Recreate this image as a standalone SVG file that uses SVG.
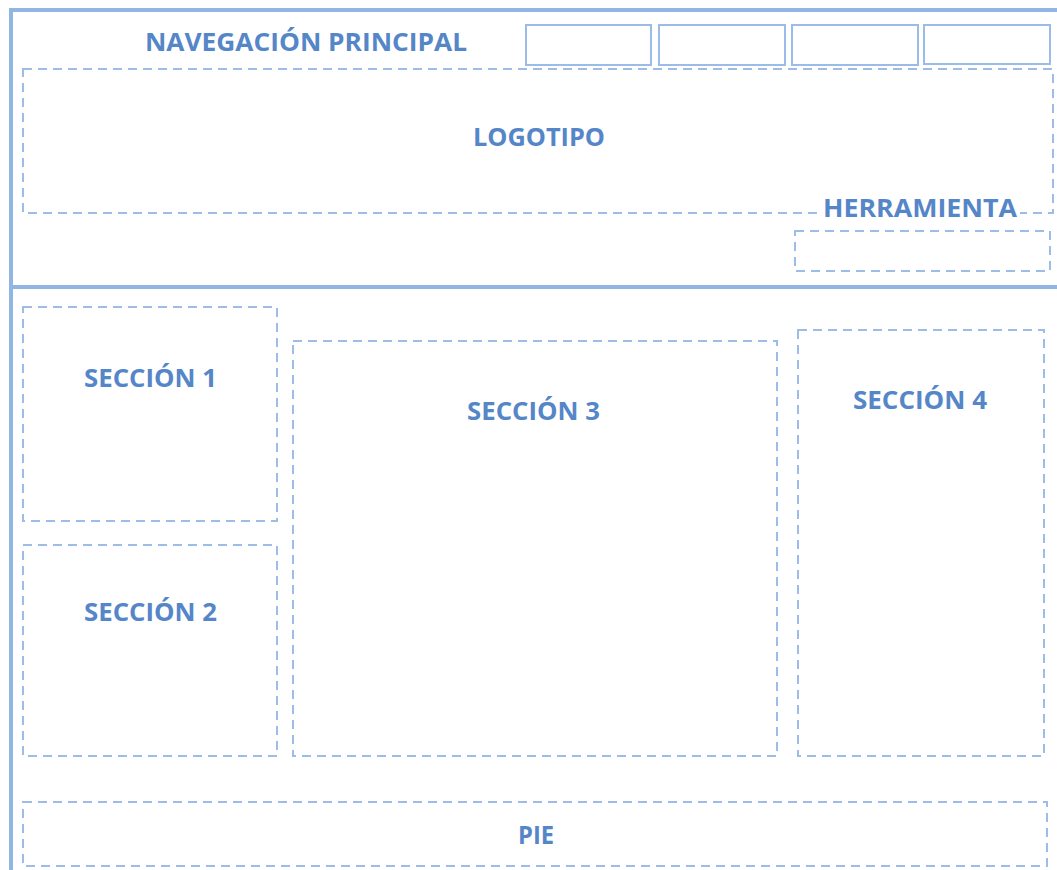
<svg xmlns="http://www.w3.org/2000/svg" width="1057" height="870" viewBox="0 0 1057 870">
<style>
.frame{stroke:#92b6e4;stroke-width:4;fill:none}
.solid{stroke:#9bbce8;stroke-width:2;fill:none}
.dash{stroke:#9dbde8;stroke-width:2;fill:none;stroke-dasharray:9 6}
.lbl{font-family:"Open Sans","Liberation Sans",sans-serif;font-weight:bold;font-size:25px;fill:#5586c8;text-anchor:middle}
</style>
<rect width="1057" height="870" fill="#ffffff"/>
<g id="frame">
<line class="frame" x1="9" y1="10" x2="1057" y2="10"/>
<line class="frame" x1="11" y1="8" x2="11" y2="870"/>
<line class="frame" x1="11" y1="287" x2="1057" y2="287"/>
</g>
<g id="nav">
<text class="lbl" x="306" y="51" textLength="322" lengthAdjust="spacingAndGlyphs">NAVEGACIÓN PRINCIPAL</text>
<rect class="solid" x="526" y="25" width="125" height="40"/>
<rect class="solid" x="659" y="25" width="126" height="40"/>
<rect class="solid" x="792" y="25" width="126" height="40"/>
<rect class="solid" x="924" y="25" width="126" height="39"/>
</g>
<g id="logotipo">
<rect class="dash" x="23" y="69" width="1030" height="144"/>
<text class="lbl" x="539" y="146" textLength="132" lengthAdjust="spacingAndGlyphs">LOGOTIPO</text>
</g>
<g id="herramienta">
<rect x="820" y="196" width="200" height="22" fill="#ffffff"/>
<text class="lbl" x="920" y="217" textLength="194" lengthAdjust="spacingAndGlyphs">HERRAMIENTA</text>
<rect class="dash" x="795" y="231" width="255" height="40"/>
</g>
<g id="seccion1">
<rect class="dash" x="23" y="307" width="254" height="214"/>
<text class="lbl" x="150.5" y="387" textLength="133" lengthAdjust="spacingAndGlyphs">SECCIÓN 1</text>
</g>
<g id="seccion2">
<rect class="dash" x="23" y="545" width="254" height="211"/>
<text class="lbl" x="150.5" y="621" textLength="133" lengthAdjust="spacingAndGlyphs">SECCIÓN 2</text>
</g>
<g id="seccion3">
<rect class="dash" x="293" y="341" width="484" height="415"/>
<text class="lbl" x="533.5" y="420" textLength="133" lengthAdjust="spacingAndGlyphs">SECCIÓN 3</text>
</g>
<g id="seccion4">
<rect class="dash" x="798" y="330" width="246" height="426"/>
<text class="lbl" x="920" y="409" textLength="134" lengthAdjust="spacingAndGlyphs">SECCIÓN 4</text>
</g>
<g id="pie">
<rect class="dash" x="23" y="802" width="1024" height="64"/>
<text class="lbl" x="536" y="844" textLength="36" lengthAdjust="spacingAndGlyphs">PIE</text>
</g>
<g id="connectors"></g>
</svg>
